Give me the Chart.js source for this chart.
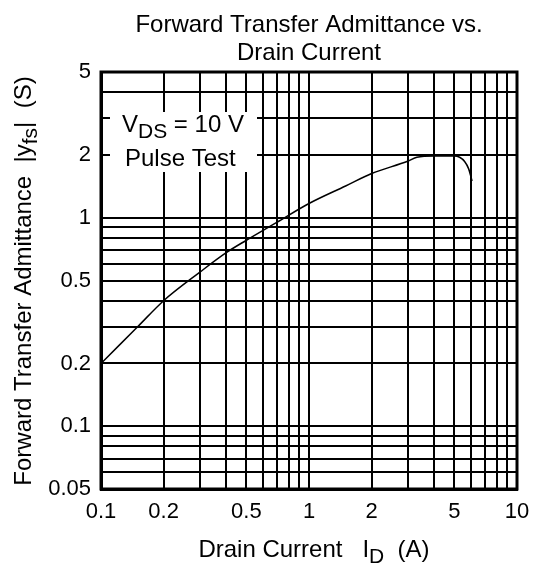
<!DOCTYPE html>
<html>
<head>
<meta charset="utf-8">
<script src="https://cdn.jsdelivr.net/npm/chart.js@4/dist/chart.umd.min.js"></script>
<style>
body { margin: 0; background: #fff; }
</style>
</head>
<body>
<canvas id="chart" width="534" height="565"></canvas>
<script>
// Drain current I_D (A) and forward transfer admittance |yfs| (S)
const drainCurrent = [0.1, 0.15, 0.2, 0.3, 0.4, 0.5, 0.7, 1.0, 1.5, 2.0, 3.0, 3.3, 4.0, 5.0, 5.3, 5.6, 5.85, 6.08]
const admittance = [0.2, 0.3, 0.4, 0.55, 0.68, 0.78, 0.95, 1.17, 1.42, 1.63, 1.87, 1.95, 1.98, 1.98, 1.95, 1.86, 1.72, 1.5]

const xGrid = [0.1, 0.2, 0.3, 0.4, 0.5, 0.6, 0.7, 0.8, 0.9, 1, 2, 3, 4, 5, 6, 7, 8, 9, 10]
const xLabels = ["0.1", "0.2", "0.5", "1", "2", "5", "10"]
const yGrid = [0.05, 0.06, 0.07, 0.08, 0.09, 0.1, 0.2, 0.3, 0.4, 0.5, 0.6, 0.7, 0.8, 0.9, 1, 2, 3, 4, 5]
const yLabels = ["0.05", "0.1", "0.2", "0.5", "1", "2", "5"]

const FONT = "'Liberation Sans', Arial, sans-serif"

// draw a run of text pieces, some of them lowered as subscripts
function drawPieces(ctx, pieces, x, y) {
  pieces.forEach(p => {
    ctx.font = (p.sub ? 21 : 24) + "px " + FONT
    ctx.fillText(p.t, x, y + (p.sub ? 6 : 0))
    x += ctx.measureText(p.t).width
  })
}
function piecesWidth(ctx, pieces) {
  let w = 0
  pieces.forEach(p => {
    ctx.font = (p.sub ? 21 : 24) + "px " + FONT
    w += ctx.measureText(p.t).width
  })
  return w
}

const decor = {
  id: "decor",
  afterDatasetsDraw(chart) {
    const ctx = chart.ctx
    const a = chart.chartArea
    ctx.save()
    ctx.fillStyle = "#000"
    ctx.textBaseline = "alphabetic"

    // title
    ctx.font = "24px " + FONT
    ctx.textAlign = "center"
    const cx = (a.left + a.right) / 2
    ctx.fillText("Forward Transfer Admittance vs.", cx, 32)
    ctx.fillText("Drain Current", cx, 60)
    ctx.textAlign = "left"

    // condition box
    ctx.fillStyle = "#fff"
    ctx.fillRect(110, 112, 147, 60)
    ctx.fillStyle = "#000"
    drawPieces(ctx, [{t: "V"}, {t: "DS", sub: true}, {t: " = 10 V"}], 122, 132)
    drawPieces(ctx, [{t: "Pulse Test"}], 125, 166)

    // x axis title
    const xt = [{t: "Drain Current   I"}, {t: "D", sub: true}, {t: "  (A)"}]
    drawPieces(ctx, xt, 314 - piecesWidth(ctx, xt) / 2, 557)

    // y axis title
    const yt = [{t: "Forward Transfer Admittance  |y"}, {t: "fs", sub: true}, {t: "|  (S)"}]
    ctx.translate(31, 281)
    ctx.rotate(-Math.PI / 2)
    drawPieces(ctx, yt, -piecesWidth(ctx, yt) / 2, 0)
    ctx.restore()

    // frame
    ctx.save()
    ctx.strokeStyle = "#000"
    ctx.lineWidth = 3
    ctx.strokeRect(a.left, a.top, a.right - a.left, a.bottom - a.top)
    ctx.restore()
  }
}

new Chart(document.getElementById("chart"), {
  type: "line",
  data: {
    datasets: [{
      data: drainCurrent.map((x, i) => ({x: x, y: admittance[i]})),
      borderColor: "#000",
      borderWidth: 1.5,
      pointRadius: 0,
      cubicInterpolationMode: "monotone",
      fill: false
    }]
  },
  options: {
    responsive: false,
    animation: false,
    layout: { padding: { top: 72, right: 17, left: 0, bottom: 0 } },
    plugins: { legend: { display: false }, tooltip: { enabled: false } },
    scales: {
      x: {
        type: "logarithmic",
        min: 0.1,
        max: 10,
        afterBuildTicks: s => { s.ticks = xGrid.map(v => ({value: v})) },
        afterFit: s => { s.height = 76; s.paddingLeft = 0; s.paddingRight = 0 },
        ticks: {
          autoSkip: false,
          maxRotation: 0,
          padding: 10,
          color: "#000",
          font: { family: FONT, size: 22 },
          callback: v => xLabels.includes(String(v)) ? String(v) : ""
        },
        grid: { color: "#000", lineWidth: 2, drawTicks: false },
        border: { color: "#000", width: 3 }
      },
      y: {
        type: "logarithmic",
        min: 0.05,
        max: 5,
        afterBuildTicks: s => { s.ticks = yGrid.map(v => ({value: v})) },
        afterFit: s => { s.width = 101; s.paddingTop = 0; s.paddingBottom = 0 },
        ticks: {
          autoSkip: false,
          padding: 10,
          color: "#000",
          font: { family: FONT, size: 22 },
          callback: v => yLabels.includes(String(v)) ? String(v) : ""
        },
        grid: { color: "#000", lineWidth: 2, drawTicks: false },
        border: { color: "#000", width: 3 }
      }
    }
  },
  plugins: [decor]
})
</script>
</body>
</html>
